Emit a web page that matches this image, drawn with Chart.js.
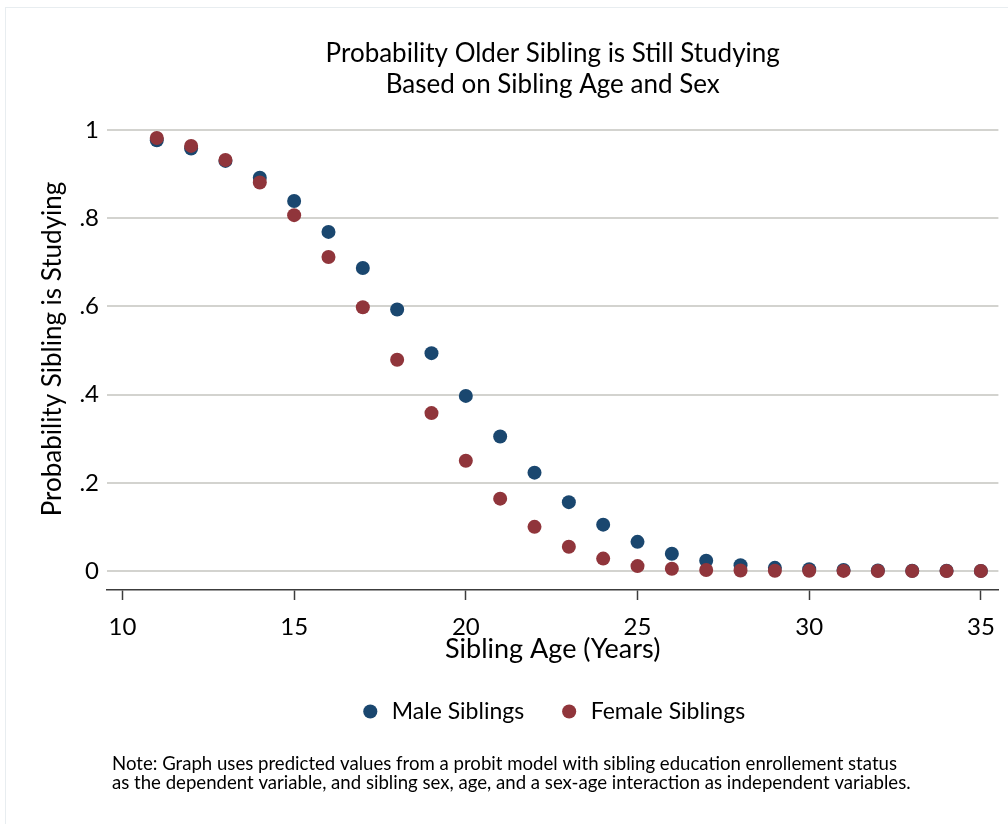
<!DOCTYPE html>
<html>
<head>
<meta charset="utf-8">
<script src="https://cdn.jsdelivr.net/npm/chart.js@4.4.1/dist/chart.umd.min.js"></script>
<style>
  html, body { margin: 0; padding: 0; background: #ffffff; }
  #wrap { width: 1008px; height: 824px; position: relative; }
</style>
</head>
<body>
<div id="wrap"><canvas id="c"></canvas></div>
<script>
// ---- data ----
const ages = [11, 12, 13, 14, 15, 16, 17, 18, 19, 20, 21, 22, 23, 24, 25, 26, 27, 28, 29, 30, 31, 32, 33, 34, 35];
const maleProb = [0.977, 0.958, 0.930, 0.892, 0.839, 0.769, 0.687, 0.593, 0.494, 0.397, 0.305, 0.223, 0.156, 0.105, 0.066, 0.039, 0.023, 0.013, 0.007, 0.004, 0.002, 0.001, 0.0005, 0.0003, 0.0001];
const femaleProb = [0.982, 0.964, 0.932, 0.881, 0.807, 0.712, 0.598, 0.479, 0.358, 0.250, 0.164, 0.100, 0.055, 0.028, 0.011, 0.005, 0.002, 0.001, 0.0004, 0.0002, 0.0001, 0.00005, 0.00002, 0.00001, 0.00001];
const seriesNames = ['Male Siblings', 'Female Siblings'];
const xTickValues = [10, 15, 20, 25, 30, 35];
const yTickValues = [0, 0.2, 0.4, 0.6, 0.8, 1];
const yTickLabels = ['0', '.2', '.4', '.6', '.8', '1'];
const titleLines = ['Probability Older Sibling is Still Studying', 'Based on Sibling Age and Sex'];
const xTitle = 'Sibling Age (Years)';
const yTitle = 'Probability Sibling is Studying';
const noteLines = [
  'Note: Graph uses predicted values from a probit model with sibling education enrollement status',
  'as the dependent variable, and sibling sex, age, and a sex-age interaction as independent variables.'
];

const NAVY = '#1a476f';
const MAROON = '#90353b';
const FONT = 'Lato';

const notePlugin = {
  id: 'notePlugin',
  beforeDraw(chart) {
    const ctx = chart.ctx;
    ctx.save();
    ctx.strokeStyle = '#e8edf0';
    ctx.lineWidth = 1;
    ctx.strokeRect(5.5, 7.5, 1010, 830);
    ctx.restore();
  },
  afterDraw(chart) {
    const ctx = chart.ctx;
    ctx.save();
    ctx.font = '18.6px ' + FONT;
    ctx.fillStyle = '#000';
    ctx.textAlign = 'left';
    ctx.textBaseline = 'alphabetic';
    noteLines.forEach((t, i) => ctx.fillText(t, 112, 770 + i * 19));
    ctx.restore();
  }
};

const mkPoints = arr => ages.map((a, i) => ({ x: a, y: arr[i] }));

new Chart(document.getElementById('c'), {
  type: 'scatter',
  data: {
    datasets: [
      { label: seriesNames[0], data: mkPoints(maleProb), backgroundColor: NAVY, borderColor: NAVY,
        pointRadius: 7, pointHoverRadius: 7, borderWidth: 0, order: 1 },
      { label: seriesNames[1], data: mkPoints(femaleProb), backgroundColor: MAROON, borderColor: MAROON,
        pointRadius: 7, pointHoverRadius: 7, borderWidth: 0, order: 0 }
    ]
  },
  options: {
    responsive: true,
    maintainAspectRatio: false,
    animation: false,
    layout: { padding: { left: 0, right: 8, top: 0, bottom: 91 } },
    plugins: {
      tooltip: { enabled: false },
      title: {
        display: true,
        text: titleLines,
        fullSize: false,
        color: '#000',
        font: { family: FONT, size: 26, weight: 'normal', lineHeight: 31 / 26 },
        padding: { top: 38, bottom: 8 }
      },
      legend: {
        display: true,
        position: 'bottom',
        fullSize: false,
        labels: {
          usePointStyle: true,
          pointStyle: 'circle',
          boxWidth: 20,
          boxHeight: 10,
          padding: 35,
          color: '#000',
          font: { family: FONT, size: 23 },
          sort: (a, b) => a.datasetIndex - b.datasetIndex
        }
      }
    },
    scales: {
      x: {
        type: 'linear',
        min: 9.55,
        max: 35.51,
        afterFit: s => { s.height = 75; },
        afterBuildTicks: s => { s.ticks = xTickValues.map(v => ({ value: v })); },
        border: { display: true, color: '#3c3c3c', width: 1.5 },
        grid: { drawOnChartArea: false, drawTicks: true, tickLength: 10, tickColor: '#3c3c3c', tickWidth: 1.5 },
        ticks: { padding: 13, color: '#000', font: { family: FONT, size: 24 }, maxRotation: 0,
                 callback: v => String(v) },
        title: { display: true, text: xTitle, color: '#000', font: { family: FONT, size: 27 },
                 padding: { top: 0, bottom: 0 } }
      },
      y: {
        type: 'linear',
        min: -0.0432,
        max: 1.05,
        afterFit: s => { s.width = 107; },
        afterBuildTicks: s => { s.ticks = yTickValues.map(v => ({ value: v })); },
        border: { display: false },
        grid: { drawOnChartArea: true, drawTicks: false, color: '#d3d3cf', lineWidth: 2 },
        ticks: { padding: 8, color: '#000', font: { family: FONT, size: 24 },
                 callback: v => {
                   const i = yTickValues.findIndex(t => Math.abs(t - v) < 1e-9);
                   return i >= 0 ? yTickLabels[i] : '';
                 } },
        title: { display: true, text: yTitle, color: '#000', font: { family: FONT, size: 26 },
                 padding: { top: 37, bottom: 0 } }
      }
    }
  },
  plugins: [notePlugin]
});
</script>
</body>
</html>
